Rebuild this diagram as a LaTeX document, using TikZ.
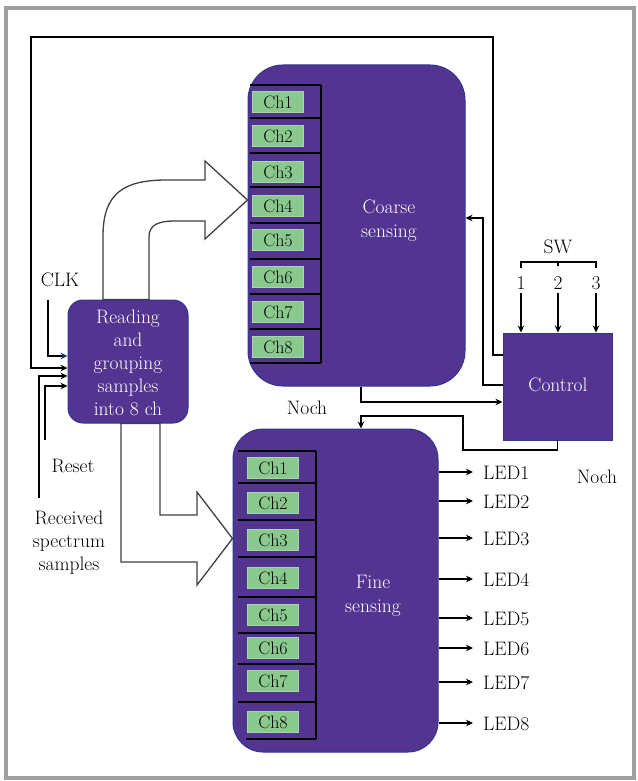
\documentclass[tikz,border=0pt]{standalone}
\usepackage{fontspec}
\usetikzlibrary{arrows.meta,calc,backgrounds}
\definecolor{purp}{RGB}{84,52,145}
\definecolor{purpedge}{RGB}{45,55,140}
\definecolor{chgreen}{RGB}{137,201,142}
\definecolor{framegray}{RGB}{160,160,160}
\definecolor{clkblue}{RGB}{30,55,120}
\begin{document}
\begin{tikzpicture}[x=1pt,y=-1pt,
  every node/.style={font=\rmfamily\fontsize{19.5}{23}\selectfont},
  blk/.style={draw=purpedge, fill=purp, line width=1pt, inner sep=0},
  blktext/.style={text=white, align=center, inner sep=0},
  chbox/.style={draw=chgreen!75!white, fill=chgreen, text=black, line width=0.8pt,
    minimum width=51, minimum height=21, inner sep=0, font=\rmfamily\fontsize{18}{18}\selectfont},
  wire/.style={black, line width=1.6pt},
  tip/.style={-{Stealth[length=7pt,width=6.5pt]}},
  bigarrow/.style={draw=black!75, fill=white, line width=1.3pt, line join=miter},
  lbl/.style={text=black, inner sep=0},
  tabline/.style={black, line width=1.2pt}
]
\useasboundingbox (0,0) rectangle (637,781);
\draw[framegray, line width=4pt] (6,8.5) rectangle (634,778);

% blocks
\node[blk, rounded corners=35pt, minimum width=217, minimum height=321] (coarse) at (356.5,225.5) {};
\node[blk, rounded corners=30pt, minimum width=205, minimum height=323] (fine) at (335.5,590.5) {};
\node[blk, rounded corners=15pt, minimum width=120, minimum height=123] (reading) at (128,361.5) {};
\node[blk, minimum width=109, minimum height=107] (control) at (557.5,386.5) {};

\node[blktext] (readingtxt) at (128,363) {Reading\\and\\grouping\\samples\\into 8 ch};
\node[blktext, font=\rmfamily\fontsize{19.5}{24}\selectfont] (coarsetxt) at (389,221) {Coarse\\sensing};
\node[blktext, font=\rmfamily\fontsize{19.5}{24}\selectfont] (finetxt) at (373,596) {Fine\\sensing};
\node[blktext] (controltxt) at (558,385) {Control};

% channel tables
\foreach \y in {85,118,153,187,223,259,294,329,363}
  \draw[tabline] (250,\y) -- (321,\y);
\draw[tabline] (321,85) -- (321,363);
\foreach \y [count=\i] in {102,136,172,206,240,277,312,347}
  \node[chbox] (cc\i) at (278,\y) {Ch\i};

\foreach \y in {451,483,520,557,597,633,664,702}
  \draw[tabline] (238,\y) -- (316,\y);
\draw[tabline] (246,739) -- (316,739);
\draw[tabline] (316,451) -- (316,739);
\foreach \y [count=\i] in {468,503,540,578,615,648,681,722}
  \node[chbox] (fc\i) at (273,\y) {Ch\i};

% big hollow arrows
\begin{scope}[on background layer]
\draw[bigarrow] (reading.north -| 103,0) -- (103,236)
  .. controls (103,192) and (125,180) .. (167,180) -- (205,180) -- (205,161)
  -- (coarse.west |- 0,200) -- (205,239) -- (205,221) -- (175,221)
  .. controls (158,221) and (149,225) .. (149,237) -- (reading.north -| 149,0) -- cycle;
\draw[bigarrow] (reading.south -| 121,0) -- (121,562) -- (197,562) -- (197,585)
  -- (fine.west |- 0,538.5) -- (197,492) -- (197,515) -- (160,515)
  -- (reading.south -| 160,0) -- cycle;
\end{scope}

% labels
\node[lbl] (clk) at (60,280) {CLK};
\node[lbl] (reset) at (73,466) {Reset};
\node[lbl, align=center] (rx) at (69,543) {Received\\spectrum\\samples};
\node[lbl] (noch1) at (307,408) {Noch};
\node[lbl] (noch2) at (597,477) {Noch};
\node[lbl] (sw) at (558,247) {SW};
\node[lbl] (sw1) at (521,283) {1};
\node[lbl] (sw2) at (558,283) {2};
\node[lbl] (sw3) at (596,283) {3};

% inputs to reading
\coordinate (clkin) at (48,300);
\coordinate (rstin) at (45,440);
\coordinate (rxin) at (39,498);
\draw[wire, -{Stealth[length=7pt,width=6.5pt,color=clkblue]}] (clkin) |- (reading.west |- 0,356);
\draw[wire, line width=2.2pt, tip] (rxin) |- (reading.west |- 0,376);
\draw[wire, line width=2.2pt, tip] (rstin) |- (reading.west |- 0,386);

% feedback loop
\draw[wire, tip] (control.west |- 0,355) -| (493,37) -| (31,368) -- (reading.west |- 0,368);
\draw[wire, tip] (control.west |- 0,385) -| (483,218) -- (coarse.east |- 0,218);
\draw[wire, tip] (coarse.south -| 361,0) |- (control.west |- 0,402);
\draw[wire, tip] (control.south) |- (463,450) |- (361,416) -- (fine.north -| 361,0);

% SW bracket and arrows
\draw[line width=1.4pt] (521,268) -- (521,262) -- (596,262) -- (596,268);
\draw[line width=1.4pt] (558,262) -- (558,266);
\foreach \n in {1,2,3}
  \draw[line width=2.4pt, tip] (sw\n.south) ++(0,3) -- (control.north -| sw\n);

% LED outputs
\foreach \y [count=\i] in {472,501,538,579,618,648,682,723} {
  \node[lbl, anchor=west] (led\i) at (483,\y+1) {LED\i};
  \draw[wire, tip] (fine.east |- 0,\y) -- ([xshift=-10pt]led\i.west |- 0,\y);
}
\end{tikzpicture}
\end{document}
